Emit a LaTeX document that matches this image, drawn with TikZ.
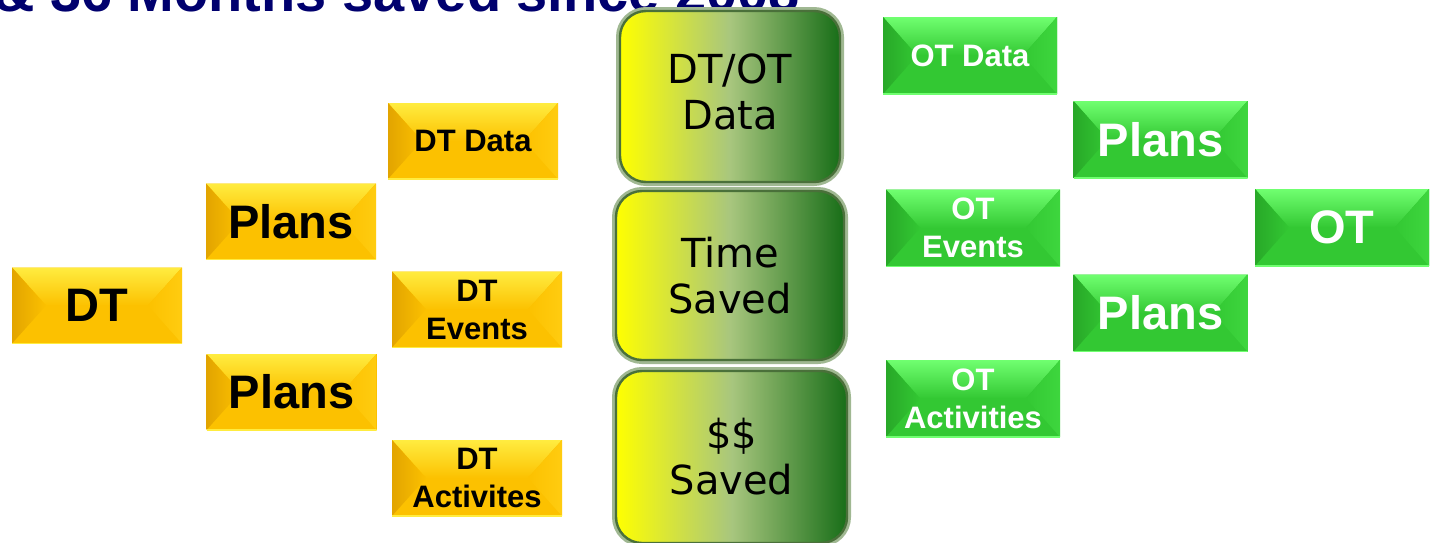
\documentclass[tikz,border=0pt]{standalone}
\usepackage{fontspec}
\setmainfont{Liberation Sans}
\newfontfamily\verd{DejaVu Sans}
\usetikzlibrary{calc}
\definecolor{navy}{RGB}{0,0,110}
\definecolor{ymid}{RGB}{252,193,0}
\definecolor{ytop}{RGB}{255,236,64}
\definecolor{yleft}{RGB}{226,164,0}
\definecolor{yright}{RGB}{255,204,16}
\definecolor{gmid}{RGB}{51,200,51}
\definecolor{gtop}{RGB}{112,255,112}
\definecolor{gleft}{RGB}{40,168,40}
\definecolor{gright}{RGB}{62,214,62}
\definecolor{cyell}{RGB}{255,255,0}
\definecolor{csage}{RGB}{168,198,126}
\definecolor{cgreen}{RGB}{24,110,24}
\definecolor{cedge}{RGB}{74,112,58}
\definecolor{chalo}{RGB}{160,184,146}
% bevel faces: base, top, left, right
\newcommand\bevfill[4]{%
  \path (path picture bounding box.north west) coordinate (bnw)
        (path picture bounding box.north east) coordinate (bne)
        (path picture bounding box.south west) coordinate (bsw)
        (path picture bounding box.south east) coordinate (bse)
        ($(bnw)!.5!(bsw)+(17pt,0)$) coordinate (bw)
        ($(bne)!.5!(bse)+(-17pt,0)$) coordinate (be);
  \fill[top color=#2,bottom color=#1] (bnw) -- (bne) -- (be) -- (bw) -- cycle;
  \fill[left color=#3,right color=#1] (bnw) -- (bw) -- (bsw) -- cycle;
  \fill[left color=#1,right color=#4] (bne) -- (be) -- (bse) -- cycle;
  \draw[#2,line width=.8pt] (bsw) -- (bse);}

\begin{document}
\begin{tikzpicture}[x=.5pt,y=-.5pt,
    bev/.style={rectangle,inner sep=0pt,minimum height=38pt,align=center,
      font=\bfseries\fontsize{15.5}{19}\selectfont},
    big/.style={font=\bfseries\fontsize{23.5}{28}\selectfont},
    ybox/.style={bev,minimum width=85pt,fill=ymid,text=black,
      path picture={\bevfill{ymid}{ytop}{yleft}{yright}}},
    gbox/.style={bev,minimum width=87pt,minimum height=38.5pt,fill=gmid,text=white,
      path picture={\bevfill{gmid}{gtop}{gleft}{gright}}},
    cbox/.style={rectangle,rounded corners=13pt,inner sep=0pt,align=center,
      draw=cedge,line width=1.2pt,preaction={draw=chalo,line width=4pt},
      left color=cyell,right color=cgreen,middle color=csage,
      font=\verd\fontsize{20}{23}\selectfont}]
      \useasboundingbox (0,0) rectangle (1430,542);

      \node (title) at (-13,11) [anchor=base west,text=navy,
        font=\bfseries\fontsize{28}{34}\selectfont] {\& 36 Months saved since 2008};

      \node (dtotdata) at (730,96.5) [cbox,minimum width=110pt,minimum height=85.5pt,text depth=5pt] {DT/OT\\Data};
      \node (timesaved) at (730,275.5) [cbox,minimum width=114pt,minimum height=84.5pt] {Time\\Saved};
      \node (moneysaved) at (731.5,457) [cbox,minimum width=115.5pt,minimum height=86pt] {\$\$\\Saved};

      \node (dt) at (97,305.5) [ybox,big] {DT};
      \node (plansa) at (291,221.5) [ybox,big] {Plans};
      \node (plansb) at (291.5,392) [ybox,big] {Plans};
      \node (dtdata) at (473,141) [ybox] {DT Data};
      \node (dtevents) at (477,309.5) [ybox] {DT\\Events};
      \node (dtact) at (477,478) [ybox] {DT\\Activites};

      \node (otdata) at (970,55.5) [gbox] {OT Data};
      \node (plansc) at (1160.5,139.5) [gbox,big] {Plans};
      \node (otevents) at (973,228) [gbox] {OT\\Events};
      \node (ot) at (1342,227.5) [gbox,big] {OT};
      \node (plansd) at (1160.5,313) [gbox,big] {Plans};
      \node (otact) at (973,398.5) [gbox] {OT\\Activities};

    \end{tikzpicture}
\end{document}
